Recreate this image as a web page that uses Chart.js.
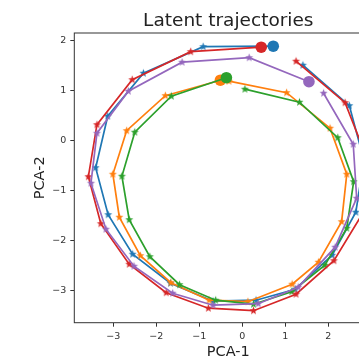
<!DOCTYPE html>
<html><head><meta charset="utf-8">
<script src="https://cdn.jsdelivr.net/npm/chart.js@4.4.1/dist/chart.umd.min.js"></script>
<style>
html,body{margin:0;padding:0;overflow:hidden;background:#fff;width:359px;height:359px}
#wrap{position:absolute;left:0;top:0;width:457px;height:359px}
</style>
</head><body><div id="wrap"><canvas id="c" width="457" height="359"></canvas></div>
<script>
const titleText = 'Latent trajectories';
const xLabel = 'PCA-1';
const yLabel = 'PCA-2';
const xTicks = [-3, -2, -1, 0, 1, 2, 3];
const xTickLabels = ['−3', '−2', '−1', '0', '1', '2', '3'];
const yTicks = [-3, -2, -1, 0, 1, 2];
const yTickLabels = ['−3', '−2', '−1', '0', '1', '2'];
const seriesColors = ['#1f77b4', '#ff7f0e', '#2ca02c', '#d62728', '#9467bd'];

const blueX = [1.41, 2.49, 2.83, 2.64, 2.09, 1.23, 0.32, -0.68, -1.67, -2.55, -3.12, -3.41, -3.13, -2.30, -0.91, 0.72];
const blueY = [1.51, 0.70, -0.39, -1.43, -2.29, -2.97, -3.19, -3.21, -2.85, -2.27, -1.48, -0.54, 0.49, 1.35, 1.88, 1.89];

const orangeX = [-0.31, 1.03, 2.04, 2.43, 2.31, 1.77, 1.16, 0.13, -0.77, -1.66, -2.37, -2.86, -3.01, -2.69, -1.79, -0.51];
const orangeY = [1.19, 0.96, 0.25, -0.67, -1.62, -2.43, -2.87, -3.22, -3.19, -2.84, -2.30, -1.53, -0.67, 0.20, 0.90, 1.21];

const greenX = [0.06, 1.33, 2.22, 2.59, 2.43, 1.92, 1.15, 0.26, -0.62, -1.46, -2.15, -2.63, -2.80, -2.50, -1.65, -0.37];
const greenY = [1.03, 0.77, 0.06, -0.82, -1.75, -2.49, -3.02, -3.27, -3.19, -2.88, -2.32, -1.58, -0.71, 0.17, 0.89, 1.26];

const redX = [1.25, 2.39, 2.88, 2.83, 2.13, 1.25, 0.26, -0.79, -1.77, -2.63, -3.29, -3.58, -3.38, -2.56, -1.20, 0.44];
const redY = [1.59, 0.76, -0.31, -1.41, -2.40, -3.07, -3.40, -3.35, -3.04, -2.47, -1.66, -0.72, 0.32, 1.22, 1.78, 1.87];

const purpleX = [1.89, 2.58, 2.66, 2.16, 1.30, 0.37, -0.68, -1.62, -2.52, -3.17, -3.52, -3.38, -2.65, -1.40, 0.16, 1.55];
const purpleY = [0.95, -0.07, -1.15, -2.13, -2.93, -3.26, -3.29, -3.05, -2.51, -1.77, -0.85, 0.15, 0.99, 1.57, 1.66, 1.18];

const seriesX = [blueX, orangeX, greenX, redX, purpleX];
const seriesY = [blueY, orangeY, greenY, redY, purpleY];

function starImage(color) {
  const c = document.createElement('canvas');
  c.width = 11; c.height = 11;
  const g = c.getContext('2d');
  const cx = 5.5, cy = 5.5, R = 4.2, r = 1.8;
  g.beginPath();
  for (let i = 0; i < 10; i++) {
    const ang = -Math.PI / 2 + i * Math.PI / 5;
    const rad = i % 2 === 0 ? R : r;
    const px = cx + rad * Math.cos(ang), py = cy + rad * Math.sin(ang);
    if (i === 0) g.moveTo(px, py); else g.lineTo(px, py);
  }
  g.closePath();
  g.fillStyle = color;
  g.fill();
  return c;
}

const datasets = seriesX.map((xs, si) => {
  const color = seriesColors[si];
  const star = starImage(color);
  const n = xs.length;
  return {
    data: xs.map((x, i) => ({x: x, y: seriesY[si][i]})),
    showLine: true,
    borderColor: color,
    borderWidth: 1.7,
    backgroundColor: color,
    pointBackgroundColor: color,
    pointBorderColor: color,
    pointBorderWidth: 0,
    pointStyle: ctx => ctx.dataIndex === n - 1 ? 'circle' : star,
    pointRadius: ctx => ctx.dataIndex === n - 1 ? 5.8 : 4,
    order: seriesX.length - si,
    tension: 0
  };
});

const framePlugin = {
  id: 'frame',
  afterDraw(chart) {
    const {ctx, chartArea: a} = chart;
    ctx.save();
    ctx.strokeStyle = '#333';
    ctx.lineWidth = 1;
    ctx.strokeRect(a.left, a.top, a.right - a.left, a.bottom - a.top);
    ctx.restore();
  }
};

const tickFont = {family: 'DejaVu Sans', size: 9.5};
const labelFont = {family: 'DejaVu Sans', size: 14.5, lineHeight: 0.9};

new Chart(document.getElementById('c'), {
  type: 'scatter',
  data: {datasets},
  plugins: [framePlugin],
  options: {
    responsive: false,
    animation: false,
    devicePixelRatio: 1,
    layout: {padding: {left: 0, right: 74.7, top: 0, bottom: 0}},
    plugins: {
      legend: {display: false},
      tooltip: {enabled: false},
      title: {
        display: true,
        fullSize: false,
        text: titleText,
        color: '#222',
        font: {family: 'DejaVu Sans', size: 18.5, weight: 'normal'},
        padding: {top: 10, bottom: 0.8}
      }
    },
    scales: {
      x: {
        type: 'linear',
        min: -3.907, max: 3.256,
        afterFit: s => { s.height = 36.3; },
        afterBuildTicks: s => { s.ticks = xTicks.map(v => ({value: v})); },
        ticks: {
          font: tickFont, color: '#333', padding: 4, maxRotation: 0, autoSkip: false,
          callback: v => { const i = xTicks.indexOf(v); return i >= 0 ? xTickLabels[i] : ''; }
        },
        grid: {display: true, drawOnChartArea: false, drawTicks: true, tickLength: 4, color: '#333'},
        border: {display: false},
        title: {display: true, text: xLabel, color: '#222', font: labelFont, padding: {top: 0, bottom: 0}}
      },
      y: {
        type: 'linear',
        min: -3.64, max: 2.154,
        afterFit: s => { s.width = 74.3; },
        afterBuildTicks: s => { s.ticks = yTicks.map(v => ({value: v})); },
        ticks: {
          font: tickFont, color: '#333', padding: 4, autoSkip: false,
          callback: v => { const i = yTicks.indexOf(v); return i >= 0 ? yTickLabels[i] : ''; }
        },
        grid: {display: true, drawOnChartArea: false, drawTicks: true, tickLength: 4, color: '#333'},
        border: {display: false},
        title: {display: true, text: yLabel, color: '#222', font: {family: 'DejaVu Sans', size: 14.5, lineHeight: 1.2}, padding: {top: 31.3, bottom: 0}}
      }
    }
  }
});
</script>
</body></html>
